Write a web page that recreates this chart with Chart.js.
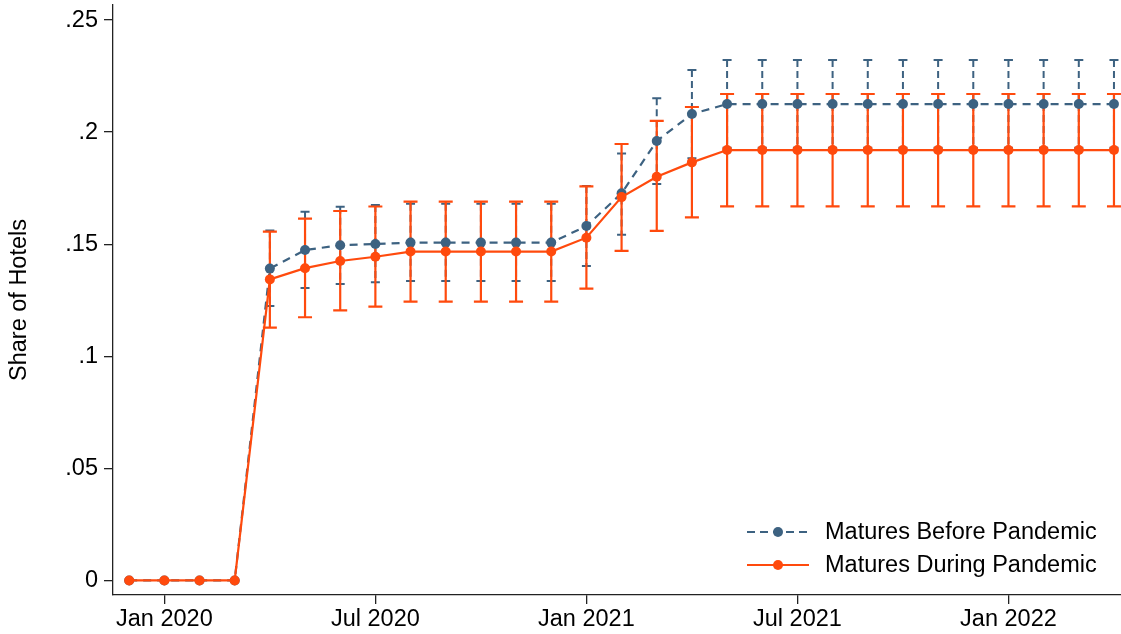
<!DOCTYPE html>
<html>
<head>
<meta charset="utf-8">
<script src="https://cdn.jsdelivr.net/npm/chart.js@4.4.1/dist/chart.umd.min.js"></script>
<style>
  html, body { margin: 0; padding: 0; background: #fff; }
  #wrap { position: relative; width: 1121px; height: 634px; }
</style>
</head>
<body>
<div id="wrap"><canvas id="c" width="1121" height="634"></canvas></div>
<script>
// Monthly observations
const months = [
  'Dec 2019', 'Jan 2020', 'Feb 2020', 'Mar 2020', 'Apr 2020', 'May 2020', 'Jun 2020',
  'Jul 2020', 'Aug 2020', 'Sep 2020', 'Oct 2020', 'Nov 2020', 'Dec 2020',
  'Jan 2021', 'Feb 2021', 'Mar 2021', 'Apr 2021', 'May 2021', 'Jun 2021',
  'Jul 2021', 'Aug 2021', 'Sep 2021', 'Oct 2021', 'Nov 2021', 'Dec 2021',
  'Jan 2022', 'Feb 2022', 'Mar 2022', 'Apr 2022'
];
const xTickLabels = ['Jan 2020', 'Jul 2020', 'Jan 2021', 'Jul 2021', 'Jan 2022'];
const yTickValues = [0, 0.05, 0.1, 0.15, 0.2, 0.25];
const seriesNames = ['Matures Before Pandemic', 'Matures During Pandemic'];

// Share of hotels, hotels maturing before the pandemic
const beforeShare = [
  0, 0, 0, 0, 0.1391, 0.1474, 0.1495, 0.1501, 0.1507, 0.1507, 0.1507, 0.1507, 0.1507,
  0.1581, 0.1727, 0.1960, 0.2081, 0.2125, 0.2125, 0.2125, 0.2125, 0.2125, 0.2125,
  0.2125, 0.2125, 0.2125, 0.2125, 0.2125, 0.2125
];
const beforeLow = [
  null, null, null, null, 0.1224, 0.1305, 0.1322, 0.1330, 0.1336, 0.1336, 0.1336, 0.1336, 0.1336,
  0.1403, 0.1542, 0.1768, 0.1883, 0.1930, 0.1930, 0.1930, 0.1930, 0.1930, 0.1930,
  0.1930, 0.1930, 0.1930, 0.1930, 0.1930, 0.1930
];
const beforeHigh = [
  null, null, null, null, 0.1561, 0.1645, 0.1667, 0.1675, 0.1680, 0.1680, 0.1680, 0.1680, 0.1680,
  0.1759, 0.1905, 0.2151, 0.2277, 0.2322, 0.2322, 0.2322, 0.2322, 0.2322, 0.2322,
  0.2322, 0.2322, 0.2322, 0.2322, 0.2322, 0.2322
];

// Share of hotels, hotels maturing during the pandemic
const duringShare = [
  0, 0, 0, 0, 0.1343, 0.1393, 0.1425, 0.1444, 0.1467, 0.1467, 0.1467, 0.1467, 0.1467,
  0.1529, 0.1710, 0.1801, 0.1865, 0.1920, 0.1920, 0.1920, 0.1920, 0.1920, 0.1920,
  0.1920, 0.1920, 0.1920, 0.1920, 0.1920, 0.1920
];
const duringLow = [
  null, null, null, null, 0.1128, 0.1174, 0.1205, 0.1221, 0.1244, 0.1244, 0.1244, 0.1244, 0.1244,
  0.1302, 0.1470, 0.1559, 0.1620, 0.1669, 0.1669, 0.1669, 0.1669, 0.1669, 0.1669,
  0.1669, 0.1669, 0.1669, 0.1669, 0.1669, 0.1669
];
const duringHigh = [
  null, null, null, null, 0.1556, 0.1614, 0.1648, 0.1668, 0.1690, 0.1690, 0.1690, 0.1690, 0.1690,
  0.1758, 0.1947, 0.2050, 0.2112, 0.2170, 0.2170, 0.2170, 0.2170, 0.2170, 0.2170,
  0.2170, 0.2170, 0.2170, 0.2170, 0.2170, 0.2170
];

const BLUE = '#3d6281';
const ORANGE = '#ff4a0d';
const FONT = 'Arial, "Liberation Sans", Helvetica, sans-serif';
const FONT_SIZE = 23.5;

// x position: months elapsed since Jan 2020
const origin = months.indexOf('Jan 2020');
const monthX = label => months.indexOf(label) - origin;
const toPoints = arr => arr.map((v, i) => ({ x: i - origin, y: v }));

// Confidence-interval caps and whiskers, drawn beneath the connected lines
const errorBars = {
  id: 'errorBars',
  beforeDatasetsDraw(chart) {
    const { ctx, scales: { x, y } } = chart;
    const specs = [
      { low: beforeLow, high: beforeHigh, color: BLUE, half: 4.5, dash: [7, 4], width: 2 },
      { low: duringLow, high: duringHigh, color: ORANGE, half: 7, dash: [], width: 2.2 }
    ];
    ctx.save();
    specs.forEach(s => {
      ctx.strokeStyle = s.color;
      ctx.lineWidth = s.width;
      s.low.forEach((lo, i) => {
        const hi = s.high[i];
        if (lo === null || hi === null) return;
        const px = x.getPixelForValue(i - origin);
        const pLo = y.getPixelForValue(lo);
        const pHi = y.getPixelForValue(hi);
        ctx.setLineDash(s.dash);
        ctx.beginPath();
        ctx.moveTo(px, pHi);
        ctx.lineTo(px, pLo);
        ctx.stroke();
        ctx.setLineDash([]);
        ctx.beginPath();
        ctx.moveTo(px - s.half, pHi); ctx.lineTo(px + s.half, pHi);
        ctx.moveTo(px - s.half, pLo); ctx.lineTo(px + s.half, pLo);
        ctx.stroke();
      });
    });
    ctx.restore();
  }
};

// Legend box in the lower-right corner of the plot
const cornerLegend = {
  id: 'cornerLegend',
  afterDraw(chart) {
    const { ctx, chartArea } = chart;
    const rows = [
      { name: seriesNames[0], color: BLUE, dash: [8, 5] },
      { name: seriesNames[1], color: ORANGE, dash: [] }
    ];
    const x0 = chartArea.right - 374;
    const x1 = chartArea.right - 312;
    const textX = chartArea.right - 296;
    ctx.save();
    rows.forEach((r, k) => {
      const yy = chartArea.bottom - 63 + k * 33;
      ctx.strokeStyle = r.color;
      ctx.lineWidth = 2;
      ctx.setLineDash(r.dash);
      ctx.beginPath();
      ctx.moveTo(x0, yy); ctx.lineTo(x1, yy);
      ctx.stroke();
      ctx.setLineDash([]);
      ctx.fillStyle = r.color;
      ctx.beginPath();
      ctx.arc((x0 + x1) / 2, yy, 5, 0, Math.PI * 2);
      ctx.fill();
      ctx.fillStyle = '#000';
      ctx.font = FONT_SIZE + 'px ' + FONT;
      ctx.textBaseline = 'middle';
      ctx.textAlign = 'left';
      ctx.fillText(r.name, textX, yy + 1);
    });
    ctx.restore();
  }
};

const fmtY = v => (v === 0 ? '0' : String(+v.toFixed(2)).replace(/^0/, ''));
const noEdgePadding = s => { s.paddingTop = 0; s.paddingBottom = 0; s.paddingLeft = 0; s.paddingRight = 0; };

new Chart(document.getElementById('c'), {
  type: 'line',
  data: {
    datasets: [
      {
        label: seriesNames[0],
        data: toPoints(beforeShare),
        borderColor: BLUE,
        backgroundColor: BLUE,
        borderWidth: 2.2,
        borderDash: [8, 6],
        pointRadius: 5,
        pointBorderWidth: 0,
        pointBackgroundColor: BLUE,
        tension: 0,
        order: 2
      },
      {
        label: seriesNames[1],
        data: toPoints(duringShare),
        borderColor: ORANGE,
        backgroundColor: ORANGE,
        borderWidth: 2.2,
        pointRadius: 5,
        pointBorderWidth: 0,
        pointBackgroundColor: ORANGE,
        tension: 0,
        order: 1
      }
    ]
  },
  options: {
    responsive: false,
    animation: false,
    devicePixelRatio: 1,
    layout: { autoPadding: false, padding: { top: 5, left: 0, right: 0, bottom: 0 } },
    plugins: { legend: { display: false }, tooltip: { enabled: false } },
    scales: {
      x: {
        type: 'linear',
        min: -1.46,
        max: 27.2,
        afterBuildTicks: s => { s.ticks = xTickLabels.map(l => ({ value: monthX(l) })); },
        afterFit: s => { s.height = 39; noEdgePadding(s); },
        ticks: {
          callback: v => xTickLabels.find(l => monthX(l) === v) || '',
          color: '#000',
          font: { family: FONT, size: FONT_SIZE },
          padding: 1,
          maxRotation: 0,
          autoSkip: false
        },
        grid: { drawOnChartArea: false, drawTicks: true, tickLength: 9, color: '#222', lineWidth: 1.3 },
        border: { display: true, color: '#222', width: 1.3 }
      },
      y: {
        type: 'linear',
        min: -0.0065,
        max: 0.2567,
        afterBuildTicks: s => { s.ticks = yTickValues.map(v => ({ value: v })); },
        afterFit: s => { s.width = 113; noEdgePadding(s); },
        ticks: {
          callback: v => fmtY(v),
          color: '#000',
          font: { family: FONT, size: FONT_SIZE },
          padding: 6
        },
        grid: { drawOnChartArea: false, drawTicks: true, tickLength: 9, color: '#222', lineWidth: 1.3 },
        border: { display: true, color: '#222', width: 1.3 },
        title: {
          display: true,
          text: 'Share of Hotels',
          color: '#000',
          font: { family: FONT, size: FONT_SIZE },
          padding: { top: 5, bottom: 0 }
        }
      }
    }
  },
  plugins: [errorBars, cornerLegend]
});
</script>
</body>
</html>
